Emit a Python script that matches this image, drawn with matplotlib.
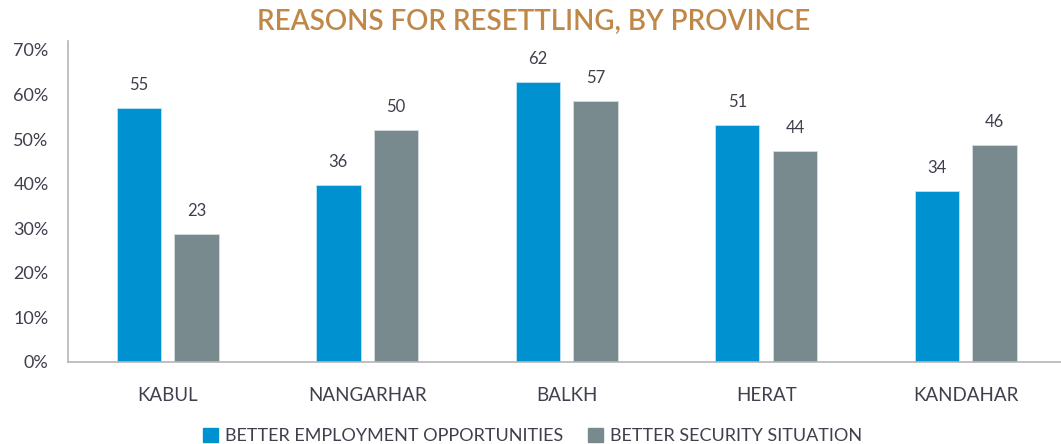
import numpy as np
import matplotlib.pyplot as plt
from matplotlib.patches import Patch

provinces = ['KABUL', 'NANGARHAR', 'BALKH', 'HERAT', 'KANDAHAR']
# bar heights as drawn (percent)
employment = [57.0, 39.8, 62.8, 53.1, 38.3]
security = [28.8, 52.0, 58.5, 47.3, 48.6]
# data labels as printed on the chart
employment_labels = ['55', '36', '62', '51', '34']
security_labels = ['23', '50', '57', '44', '46']
y_ticks = [0, 10, 20, 30, 40, 50, 60, 70]

blue = '#0091D0'
grey = '#788A8E'
text_col = '#3F3F4D'
font = 'Lato'

fig = plt.figure(figsize=(10.61, 4.44), dpi=100)
ax = fig.add_axes([0.0641, 0.1847, 0.940, 0.723])

x = np.arange(len(provinces))
w = 0.222
off = 0.1445
b1 = ax.bar(x - off, employment, width=w, color=blue, edgecolor='#BFE3F3', linewidth=0.6)
b2 = ax.bar(x + off, security, width=w, color=grey, edgecolor='#D5DCDD', linewidth=0.6)

for bars, labels in [(b1, employment_labels), (b2, security_labels)]:
    for bar, lab in zip(bars, labels):
        ax.annotate(lab, (bar.get_x() + bar.get_width() / 2, bar.get_height()),
                    xytext=(0, 16.5), textcoords='offset points', ha='center', va='center',
                    fontsize=12, color=text_col, family=font)

ax.set_xlim(-0.5, 4.5)
ax.set_ylim(0, 72)
ax.set_yticks(y_ticks)
ax.set_yticklabels([f'{v}%' for v in y_ticks], fontsize=13, color=text_col, family=font)
ax.set_xticks(x)
ax.set_xticklabels(provinces, fontsize=13.5, color=text_col, family=font)
ax.tick_params(axis='both', length=0)
ax.tick_params(axis='x', pad=18)
ax.tick_params(axis='y', pad=14)
for lab in ax.get_yticklabels():
    lab.set_va('center_baseline')
for s in ['top', 'right']:
    ax.spines[s].set_visible(False)
ax.spines['left'].set_color('#B5B5B5')
ax.spines['bottom'].set_color('#B5B5B5')
ax.spines['left'].set_linewidth(1.2)
ax.spines['bottom'].set_linewidth(1.2)

fig.text(0.503, 0.95, 'REASONS FOR RESETTLING, BY PROVINCE', ha='center', va='center',
         fontsize=20, fontweight='semibold', color='#BF8848', family=font)

handles = [Patch(color=blue, label='BETTER EMPLOYMENT OPPORTUNITIES'),
           Patch(color=grey, label='BETTER SECURITY SITUATION')]
fig.legend(handles=handles, loc='center', bbox_to_anchor=(0.502, 0.018), ncol=2,
           frameon=False, prop={'family': font, 'size': 13.0}, labelcolor=text_col,
           handlelength=0.8, handleheight=0.8, handletextpad=0.4, columnspacing=1.4)

fig.savefig('out.png', dpi=100)
